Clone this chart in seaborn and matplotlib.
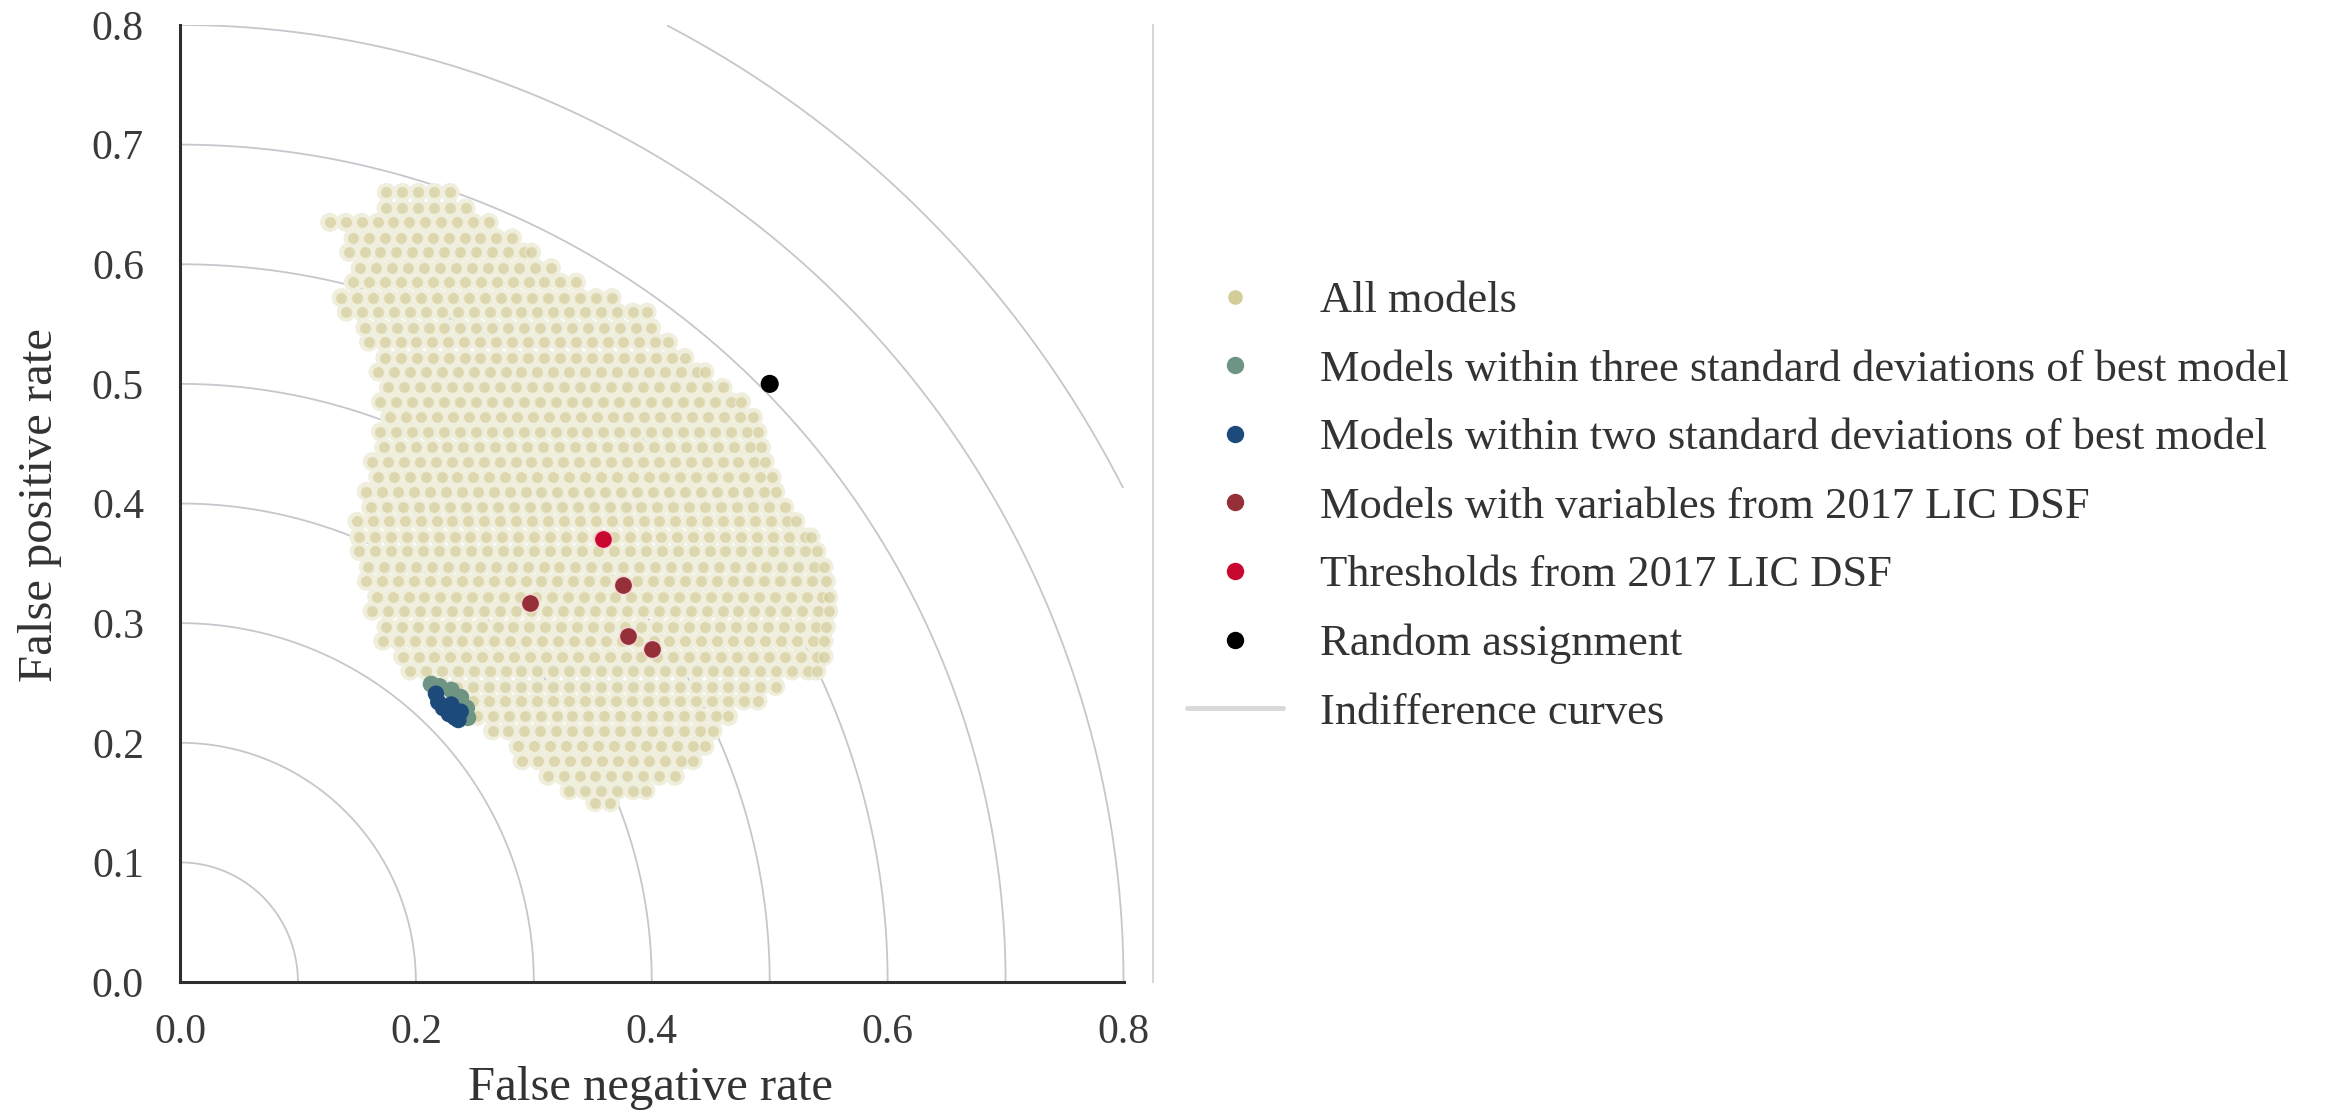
import numpy as np
import pandas as pd
import matplotlib
matplotlib.use("Agg")
import matplotlib.pyplot as plt
import seaborn as sns
from matplotlib.lines import Line2D

# ---------------- data ----------------
# "All models" cloud: row heights (FPR) with left / right extent (FNR)
cloud_row_y = [0.660, 0.647, 0.635, 0.622, 0.610, 0.597, 0.585, 0.572, 0.560,
               0.547, 0.535, 0.522, 0.510, 0.497, 0.485, 0.472, 0.460, 0.447,
               0.435, 0.422, 0.410, 0.397, 0.385, 0.372, 0.360, 0.347, 0.335,
               0.322, 0.310, 0.297, 0.285, 0.272, 0.260, 0.247, 0.235, 0.222,
               0.210, 0.197, 0.185, 0.172, 0.160, 0.150]
cloud_row_xmin = [0.175, 0.168, 0.127, 0.140, 0.143, 0.146, 0.147, 0.130, 0.141,
                  0.150, 0.160, 0.167, 0.168, 0.170, 0.170, 0.171, 0.170, 0.166,
                  0.163, 0.161, 0.158, 0.155, 0.150, 0.145, 0.152, 0.153, 0.158,
                  0.160, 0.163, 0.168, 0.172, 0.182, 0.195, 0.215, 0.235, 0.245,
                  0.265, 0.280, 0.290, 0.305, 0.330, 0.345]
cloud_row_xmax = [0.232, 0.245, 0.262, 0.285, 0.298, 0.318, 0.340, 0.370, 0.396,
                  0.404, 0.414, 0.428, 0.445, 0.462, 0.476, 0.486, 0.490, 0.493,
                  0.496, 0.502, 0.505, 0.515, 0.522, 0.535, 0.540, 0.546, 0.548,
                  0.550, 0.550, 0.548, 0.546, 0.546, 0.540, 0.505, 0.490, 0.465,
                  0.452, 0.445, 0.435, 0.420, 0.395, 0.365]

three_sd_fnr = [0.213, 0.220, 0.230, 0.238, 0.243, 0.244]
three_sd_fpr = [0.249, 0.247, 0.244, 0.238, 0.229, 0.221]

two_sd_fnr = [0.217, 0.219, 0.223, 0.228, 0.233, 0.236, 0.238, 0.230]
two_sd_fpr = [0.241, 0.234, 0.229, 0.224, 0.221, 0.219, 0.226, 0.232]

lic_vars_fnr = [0.297, 0.376, 0.380, 0.400]
lic_vars_fpr = [0.317, 0.332, 0.289, 0.278]

lic_thresh_fnr = [0.359]
lic_thresh_fpr = [0.370]

random_fnr = [0.5]
random_fpr = [0.5]

curve_radii = [0.1, 0.2, 0.3, 0.4, 0.5, 0.6, 0.7, 0.8, 0.9]

x_ticks = [0.0, 0.2, 0.4, 0.6, 0.8]
y_ticks = [0.0, 0.1, 0.2, 0.3, 0.4, 0.5, 0.6, 0.7, 0.8]

legend_labels = ["All models",
                 "Models within three standard deviations of best model",
                 "Models within two standard deviations of best model",
                 "Models with variables from 2017 LIC DSF",
                 "Thresholds from 2017 LIC DSF",
                 "Random assignment",
                 "Indifference curves"]

# ---------------- styling ----------------
c_all = "#d3cd98"
c_all_fill = "#f0eedd"
c_three = "#6e9484"
c_two = "#1c4a7a"
c_vars = "#963038"
c_thresh = "#c8082e"
c_random = "#000000"
c_curve = "#c6c7cd"
text_col = "#333333"

sns.set_theme(style="white")
plt.rcParams['font.family'] = ['Liberation Serif', 'DejaVu Serif']
plt.rcParams['text.color'] = text_col
plt.rcParams['axes.labelcolor'] = text_col

fig = plt.figure(figsize=(23.48, 11.2), dpi=100)
ax = fig.add_axes([0.07666, 0.1232, 0.4144, 0.8545])

# indifference curves (quarter circles clipped to the 0..0.8 square)
theta = np.linspace(0, np.pi / 2, 600)
for r in curve_radii:
    cx = r * np.cos(theta)
    cy = r * np.sin(theta)
    m = (cx <= 0.8001) & (cy <= 0.8001)
    ax.plot(cx[m], cy[m], color=c_curve, lw=1.3, zorder=1)

# cloud of all models, laid along the rows
step = 0.0135
pts_x, pts_y = [], []
for i, (yy, x0, x1) in enumerate(zip(cloud_row_y, cloud_row_xmin, cloud_row_xmax)):
    off = (step / 2) if i % 2 else 0.0
    xs = np.arange(x0 + off, x1 + 1e-9, step)
    if len(xs) == 0 or xs[-1] < x1 - step / 3:
        xs = np.append(xs, x1)
    pts_x.extend(xs)
    pts_y.extend([yy] * len(xs))
cloud = pd.DataFrame({"fnr": pts_x, "fpr": pts_y})

# pale body of the overlapping cloud, then the individual model dots
sns.scatterplot(data=cloud, x="fnr", y="fpr", ax=ax, color=c_all_fill, s=190,
                edgecolor="none", zorder=2, legend=False)
sns.scatterplot(data=cloud, x="fnr", y="fpr", ax=ax, color=c_all, s=75,
                edgecolor="#f3f1e2", linewidth=1.0, alpha=0.68, zorder=2.5,
                legend=False)

sns.scatterplot(x=three_sd_fnr, y=three_sd_fpr, ax=ax, color=c_three, s=150,
                edgecolor="none", zorder=3, legend=False)
sns.scatterplot(x=two_sd_fnr, y=two_sd_fpr, ax=ax, color=c_two, s=140,
                edgecolor="none", zorder=4, legend=False)
sns.scatterplot(x=lic_vars_fnr, y=lic_vars_fpr, ax=ax, color=c_vars, s=170,
                edgecolor="#f4d8d8", linewidth=1.0, zorder=5, legend=False)
sns.scatterplot(x=lic_thresh_fnr, y=lic_thresh_fpr, ax=ax, color=c_thresh, s=170,
                edgecolor="#f6d0d6", linewidth=1.0, zorder=6, legend=False)
sns.scatterplot(x=random_fnr, y=random_fpr, ax=ax, color=c_random, s=170,
                edgecolor="none", zorder=7, legend=False)

# axes
ax.set_xlim(0, 0.825)
ax.set_ylim(0, 0.8)
ax.set_xticks(x_ticks)
ax.set_yticks(y_ticks)
ax.set_xticklabels([f"{v:.1f}" for v in x_ticks])
ax.set_yticklabels([f"{v:.1f}" for v in y_ticks])
ax.tick_params(axis="both", length=0, labelsize=30, labelcolor="#3a3a3a")
ax.tick_params(axis="y", pad=26)
ax.tick_params(axis="x", pad=23)

ax.spines["top"].set_visible(False)
ax.spines["right"].set_color("#d6d6d6")
ax.spines["right"].set_linewidth(1.5)
for side in ("left", "bottom"):
    ax.spines[side].set_color("#2e2e2e")
    ax.spines[side].set_linewidth(2.2)
ax.spines["bottom"].set_bounds(0, 0.8)
ax.grid(False)

ax.set_xlabel("False negative rate", fontsize=35)
ax.set_ylabel("False positive rate", fontsize=35)
ax.xaxis.set_label_coords(0.484, -0.088)
ax.yaxis.set_label_coords(-0.121, 0.498)

# legend
handles = [
    Line2D([], [], ls="none", marker="o", markersize=9.5, markerfacecolor=c_all, markeredgecolor=c_all),
    Line2D([], [], ls="none", marker="o", markersize=11.5, markerfacecolor=c_three, markeredgecolor=c_three),
    Line2D([], [], ls="none", marker="o", markersize=11.5, markerfacecolor=c_two, markeredgecolor=c_two),
    Line2D([], [], ls="none", marker="o", markersize=11.5, markerfacecolor=c_vars, markeredgecolor=c_vars),
    Line2D([], [], ls="none", marker="o", markersize=11.5, markerfacecolor=c_thresh, markeredgecolor=c_thresh),
    Line2D([], [], ls="none", marker="o", markersize=11.5, markerfacecolor=c_random, markeredgecolor=c_random),
    Line2D([], [], color="#d9d9d9", lw=3.5),
]
fig.legend(handles, legend_labels, loc="upper left", bbox_to_anchor=(0.5055, 0.749),
           bbox_transform=fig.transFigure, frameon=False, fontsize=32,
           handlelength=2.16, handletextpad=0.83, labelspacing=0.64,
           borderpad=0, borderaxespad=0)

fig.savefig("out.png", dpi=100)
